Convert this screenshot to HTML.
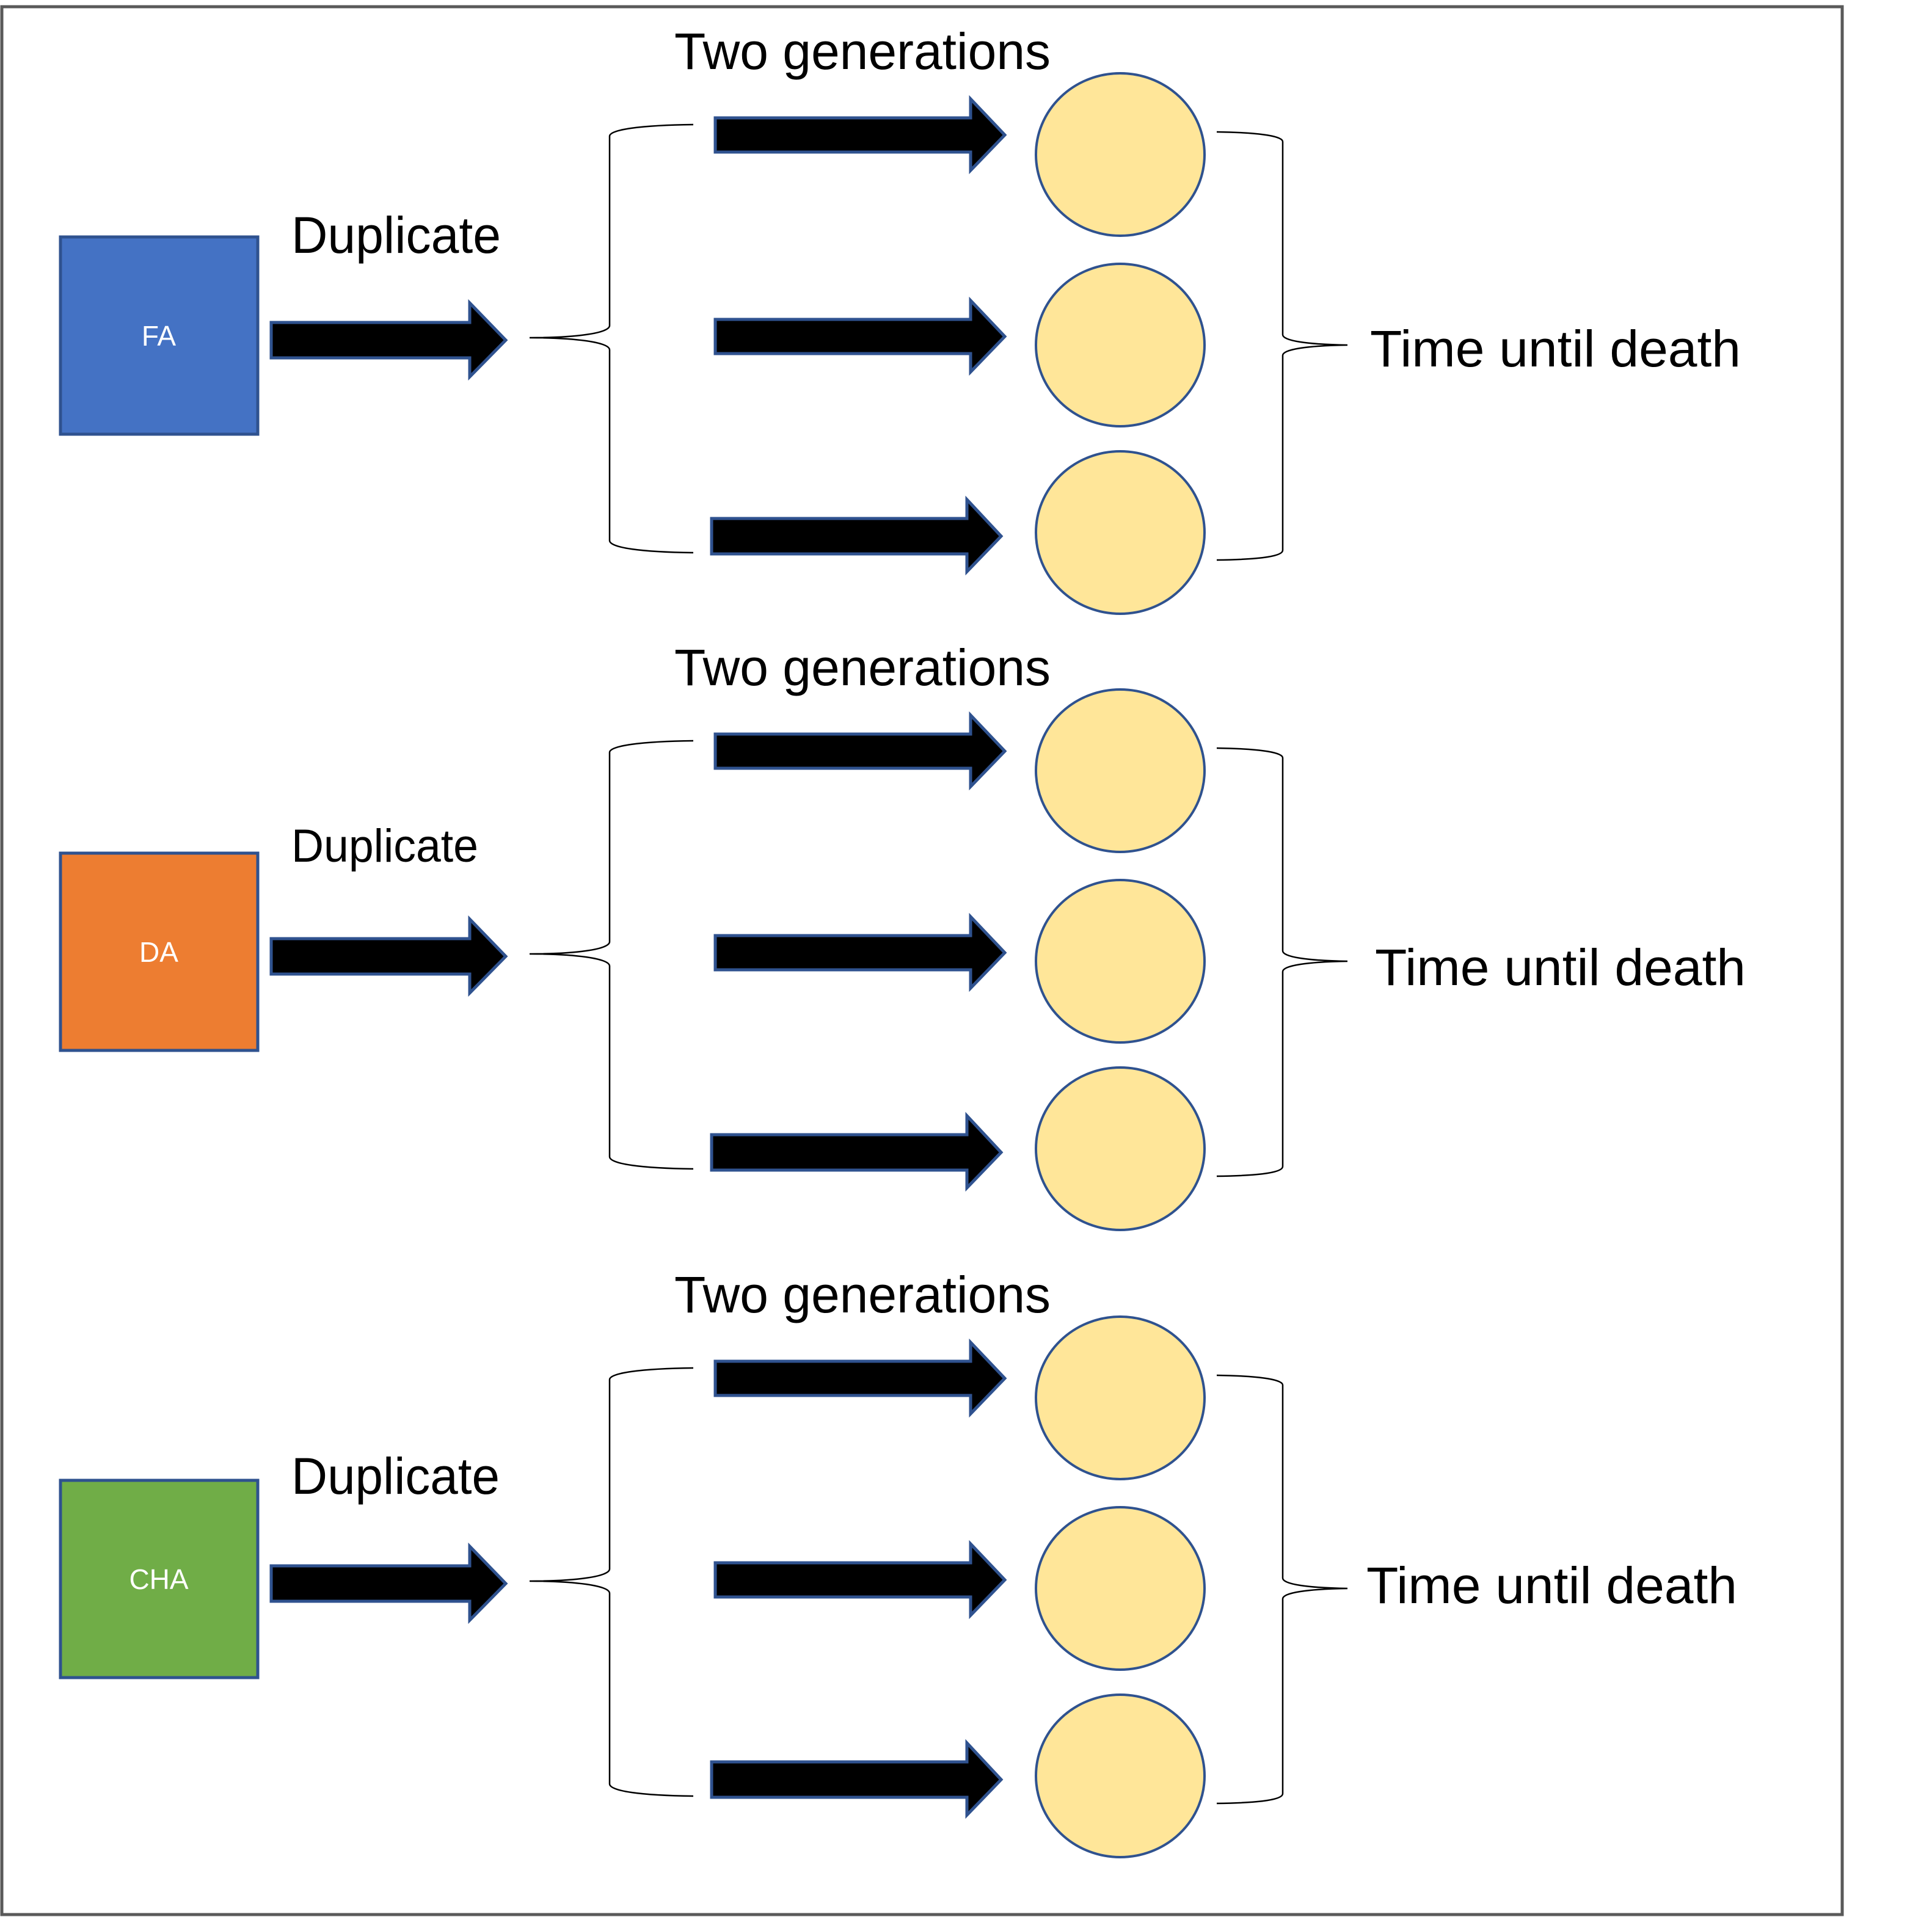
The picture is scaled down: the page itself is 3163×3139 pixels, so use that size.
<!DOCTYPE html>
<html><head><meta charset="utf-8"><style>
html,body{margin:0;padding:0;background:#fff;}
svg{display:block;}
text{font-family:"Liberation Sans",sans-serif;fill:#000;}
</style></head><body>
<svg width="3163" height="3139" viewBox="0 0 3163 3139" xmlns="http://www.w3.org/2000/svg">
<defs>
<g id="common">
  <path d="M444,528 L769,528 L769,496 L828,557 L769,617 L769,586 L444,586 Z" fill="#000" stroke="#2F528F" stroke-width="5"/>
  <path d="M1135,204 C1050,205 998,212 998,223 L998,533 C998,546 940,553 867,553 C940,553 998,560 998,573 L998,885 C998,897 1050,904 1135,905" fill="none" stroke="#000" stroke-width="2.5"/>
  <path d="M1171,193 L1589,193 L1589,162 L1645,221 L1589,279 L1589,249 L1171,249 Z" fill="#000" stroke="#2F528F" stroke-width="5"/>
  <path d="M1171,523 L1589,523 L1589,492 L1645,551 L1589,609 L1589,579 L1171,579 Z" fill="#000" stroke="#2F528F" stroke-width="5"/>
  <path d="M1165,849 L1583,849 L1583,818 L1639,878 L1583,936 L1583,907 L1165,907 Z" fill="#000" stroke="#2F528F" stroke-width="5"/>
  <ellipse cx="1834" cy="253" rx="138" ry="133" fill="#FFE699" stroke="#2F528F" stroke-width="4"/>
  <ellipse cx="1834" cy="565" rx="138" ry="133" fill="#FFE699" stroke="#2F528F" stroke-width="4"/>
  <ellipse cx="1834" cy="872" rx="138" ry="133" fill="#FFE699" stroke="#2F528F" stroke-width="4"/>
  <path d="M1992,216 C2070,217 2100,224 2100,232 L2100,548 C2100,558 2140,564 2206,565 C2140,566 2100,572 2100,582 L2100,901 C2100,910 2070,916 1992,917" fill="none" stroke="#000" stroke-width="2.5"/>
  <text x="1104" y="113" font-size="84" textLength="616" lengthAdjust="spacingAndGlyphs">Two generations</text>
</g>
</defs>
<rect x="3" y="11" width="3013" height="3124" fill="none" stroke="#595959" stroke-width="5"/>

<g>
  <use href="#common"/>
  <rect x="99" y="388" width="323" height="323" fill="#4472C4" stroke="#2F528F" stroke-width="5"/>
  <text x="260" y="566" font-size="46" text-anchor="middle" style="fill:#fff">FA</text>
  <text x="477" y="414" font-size="84" textLength="343" lengthAdjust="spacingAndGlyphs">Duplicate</text>
  <text x="2243" y="600" font-size="84" textLength="607" lengthAdjust="spacingAndGlyphs">Time until death</text>
</g>

<g transform="translate(0,1009)">
  <use href="#common"/>
  <rect x="99" y="388" width="323" height="323" fill="#ED7D31" stroke="#2F528F" stroke-width="5"/>
  <text x="260" y="566" font-size="46" text-anchor="middle" style="fill:#fff">DA</text>
  <text x="477" y="402" font-size="76" textLength="306" lengthAdjust="spacingAndGlyphs">Duplicate</text>
  <text x="2251" y="604" font-size="84" textLength="607" lengthAdjust="spacingAndGlyphs">Time until death</text>
</g>

<g transform="translate(0,2036)">
  <use href="#common"/>
  <rect x="99" y="388" width="323" height="323" fill="#70AD47" stroke="#2F528F" stroke-width="5"/>
  <text x="260" y="566" font-size="46" text-anchor="middle" style="fill:#fff">CHA</text>
  <text x="477" y="410" font-size="84" textLength="341" lengthAdjust="spacingAndGlyphs">Duplicate</text>
  <text x="2237" y="589" font-size="84" textLength="607" lengthAdjust="spacingAndGlyphs">Time until death</text>
</g>
</svg>
</body></html>
